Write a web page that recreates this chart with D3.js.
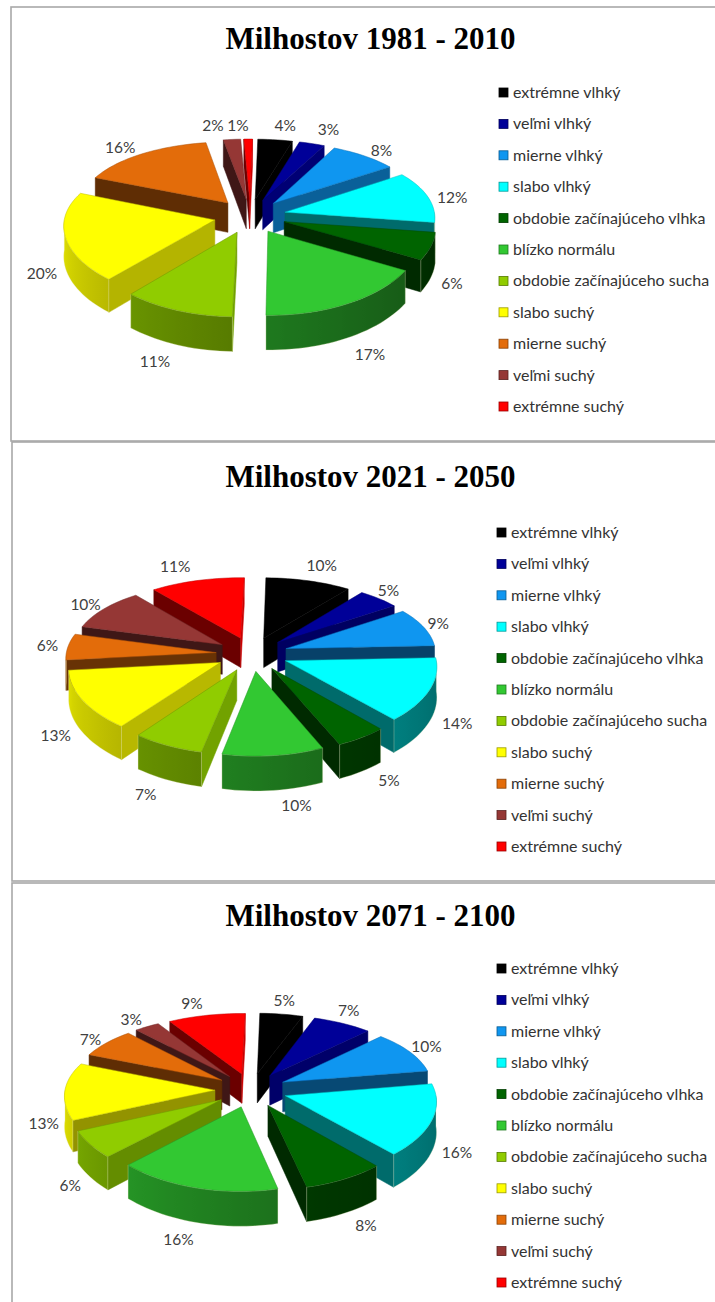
<!DOCTYPE html>
<html>
<head>
<meta charset="utf-8">
<script src="https://cdn.jsdelivr.net/npm/d3@7"></script>
<style>
  html, body { margin: 0; padding: 0; background: #fff; }
  svg { display: block; }
</style>
</head>
<body>
<svg id="chart" width="715" height="1302"></svg>
<script>
// Drought-index class shares for Milhostov, three climate periods.
const categories = ["extrémne vlhký", "veľmi vlhký", "mierne vlhký", "slabo vlhký",
  "obdobie začínajúceho vlhka", "blízko normálu", "obdobie začínajúceho sucha",
  "slabo suchý", "mierne suchý", "veľmi suchý", "extrémne suchý"];
const sliceColors = ["#000000", "#000098", "#0f96f0", "#00ffff", "#006400", "#32c832",
  "#90cc00", "#ffff00", "#e36c0a", "#953735", "#ff0000"];
const titles = ["Milhostov 1981 - 2010", "Milhostov 2021 - 2050", "Milhostov 2071 - 2100"];
const shares1981 = [4, 3, 8, 12, 6, 17, 11, 20, 16, 2, 1];
const shares2021 = [10, 5, 9, 14, 5, 10, 7, 13, 6, 10, 11];
const shares2071 = [5, 7, 10, 16, 8, 16, 6, 13, 7, 3, 9];

// Hand placement of the percentage labels, as [dx, dy] from their radial position.
const labelShift1981 = [[7,-5],[9,-5],[3,2],[2,4],[-3,2],[7,4],[-12,2],[1,3],[-8,1],[-17,-5],[-10,-4]];
const labelShift2021 = [[6,-7],[-6,-1],[-7,0],[4,-3],[12,-4],[20,-1],[-10,1],[-4,-3],[3,0],[0,1],[-15,-5]];
const labelShift2071 = [[-1,-5],[-5,-5],[-3,0],[1,-3],[8,-1],[-10,2],[2,1],[3,3],[2,3],[-3,1],[-9,-3]];

// Frame and pie placement for each panel.
const panels = [
  { values: shares1981, labelShift: labelShift1981, top: 7, bottom: 441, left: 11, titleY: 49, cx: 250, cy: 216, swatchX: 499, legendTop: 93 },
  { values: shares2021, labelShift: labelShift2021, top: 442, bottom: 881, left: 12, titleY: 487, cx: 252, cy: 654, swatchX: 497, legendTop: 533 },
  { values: shares2071, labelShift: labelShift2071, top: 883, bottom: 1310, left: 12, titleY: 926, cx: 251, cy: 1090, swatchX: 497, legendTop: 969 }
];

const radius = 150, explode = 36, tilt = 0.472, perspective = 0.141, depth = 30;
const rotation = 1.2 * Math.PI / 180;
const legendStep = 31.4;
const outerReach = radius + explode;

const svg = d3.select("#chart");
const defs = svg.append("defs");
const pie = d3.pie().sort(null).value(d => d)
  .startAngle(rotation).endAngle(2 * Math.PI + rotation);
const line = d3.line();
const shade = (color, f) => {
  const c = d3.rgb(color);
  return d3.rgb(c.r * f, c.g * f, c.b * f).formatHex();
};
// Outer wall brightness: lit from the left of the viewer.
const wallShade = a => 0.42 + 0.48 * Math.pow(Math.max(0, Math.min(1, (a - Math.PI / 2) / Math.PI)), 1.4);
// Cut faces: normals turned to the right catch the light.
const faceShade = b => {
  const nx = Math.sin(b);
  return nx > 0 ? 0.42 + 0.38 * nx : 0.42;
};

panels.forEach((panel, pi) => {
  const g = svg.append("g");

  // Panel frame runs off the right-hand side of the page.
  g.append("rect")
    .attr("x", panel.left).attr("y", panel.top)
    .attr("width", 760).attr("height", panel.bottom - panel.top)
    .attr("fill", "#fff").attr("stroke", "#a8a8a8").attr("stroke-width", 1.6);

  g.append("text")
    .attr("x", 370.5).attr("y", panel.titleY)
    .attr("text-anchor", "middle")
    .attr("font-family", "'Liberation Serif', serif")
    .attr("font-weight", "bold").attr("font-size", 31)
    .attr("fill", "#000").text(titles[pi]);

  const project = (X, Y, z = 0) => {
    const s = 1 / (1 - perspective * Y / outerReach);
    return [panel.cx + X * (1 + (s - 1) * 0.6), panel.cy + (Y * tilt + z) * s];
  };

  const arcs = pie(panel.values).map((d, i) => {
    const mid = (d.startAngle + d.endAngle) / 2;
    return { ...d, i, mid, ox: Math.sin(mid) * explode, oy: -Math.cos(mid) * explode };
  });

  // Paint from the back of the pie to the front.
  const ordered = arcs.slice().sort((a, b) => d3.descending(Math.cos(a.mid), Math.cos(b.mid)));

  ordered.forEach(d => {
    const color = sliceColors[d.i];
    const at = (a, r, z) => project(d.ox + Math.sin(a) * r, d.oy - Math.cos(a) * r, z);
    const steps = Math.max(4, Math.ceil((d.endAngle - d.startAngle) / 0.04));
    const angles = d3.range(steps + 1).map(k => d.startAngle + (d.endAngle - d.startAngle) * k / steps);
    const slice = g.append("g");

    const face = (a, b) => {
      slice.append("path")
        .attr("d", line([at(a, 0, 0), at(a, radius, 0), at(a, radius, depth), at(a, 0, depth)]) + "Z")
        .attr("fill", shade(color, faceShade(b)))
        .attr("stroke", shade(color, faceShade(b))).attr("stroke-width", 0.5);
    };
    if (Math.sin(d.startAngle) < 0) face(d.startAngle, d.startAngle - Math.PI / 2);
    if (Math.sin(d.endAngle) > 0) face(d.endAngle, d.endAngle + Math.PI / 2);

    // Curved outer wall, only on the half turned towards the viewer.
    const wa0 = Math.max(d.startAngle, Math.PI / 2), wa1 = Math.min(d.endAngle, 3 * Math.PI / 2);
    if (wa1 > wa0) {
      const n = Math.max(4, Math.ceil((wa1 - wa0) / 0.04));
      const wallAngles = d3.range(n + 1).map(k => wa0 + (wa1 - wa0) * k / n);
      const upper = wallAngles.map(a => at(a, radius, 0));
      const lower = wallAngles.map(a => at(a, radius, depth)).reverse();
      const [xMin, xMax] = d3.extent(upper, p => p[0]);
      const gid = `wall-${pi}-${d.i}`;
      const grad = defs.append("linearGradient").attr("id", gid)
        .attr("gradientUnits", "userSpaceOnUse")
        .attr("x1", xMin).attr("x2", xMax).attr("y1", 0).attr("y2", 0);
      wallAngles.slice().reverse().forEach(a => {
        const p = at(a, radius, 0);
        grad.append("stop")
          .attr("offset", (p[0] - xMin) / Math.max(1, xMax - xMin))
          .attr("stop-color", shade(color, wallShade(a)));
      });
      slice.append("path")
        .attr("d", line(upper.concat(lower)) + "Z")
        .attr("fill", `url(#${gid})`)
        .attr("stroke", "#e8e8c0").attr("stroke-opacity", 0.45).attr("stroke-width", 0.7);
    }

    // Top surface of the wedge.
    slice.append("path")
      .attr("d", line([at(0, 0, 0)].concat(angles.map(a => at(a, radius, 0)))) + "Z")
      .attr("fill", color)
      .attr("stroke", shade(color, 0.75)).attr("stroke-width", 0.5);
  });

  // Percentage labels just outside each wedge.
  g.append("g").selectAll("text").data(arcs).join("text")
    .attr("transform", d => {
      const r = radius + 24;
      const p = project(d.ox + Math.sin(d.mid) * r, d.oy - Math.cos(d.mid) * r, Math.cos(d.mid) < 0 ? depth : 0);
      const [dx, dy] = panel.labelShift[d.i];
      return `translate(${p[0] + dx},${p[1] + 5 + dy})`;
    })
    .attr("text-anchor", "middle")
    .attr("font-family", "Lato, sans-serif").attr("font-size", 15.5)
    .attr("fill", "#404040")
    .text(d => d.value + "%");

  // Legend column.
  const legendY = d3.scalePoint().domain(categories)
    .range([panel.legendTop, panel.legendTop + legendStep * 10]);
  const rows = g.append("g").selectAll("g").data(categories).join("g")
    .attr("transform", c => `translate(${panel.swatchX},${legendY(c)})`);
  rows.append("rect")
    .attr("x", 0).attr("y", -5).attr("width", 9).attr("height", 9)
    .attr("fill", (c, i) => sliceColors[i])
    .attr("stroke", (c, i) => shade(sliceColors[i], 0.6)).attr("stroke-width", 0.8);
  rows.append("text")
    .attr("x", 14).attr("y", 5)
    .attr("font-family", "Lato, sans-serif").attr("font-size", 16)
    .attr("fill", "#333").text(c => c);
});
</script>
</body>
</html>
